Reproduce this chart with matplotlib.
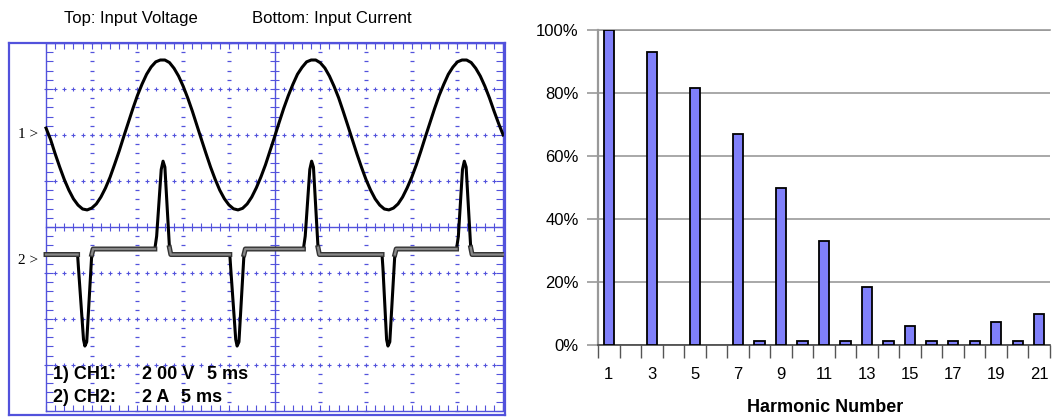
import numpy as np
import matplotlib
matplotlib.use('Agg')
from matplotlib import pyplot as plt
from matplotlib.ticker import PercentFormatter

plt.rcParams['font.family'] = ['Liberation Sans', 'DejaVu Sans']

# scope settings (from the screen)
volts_per_div = 200
amps_per_div = 2
ms_per_div = 5
ch1_ground_div = 2.0
ch2_ground_div = -0.74

# input voltage, read every 0.5 ms off the trace
voltage_t_ms = [i * 0.5 for i in range(101)]
voltage_v = [30, -20, -82, -140, -194, -240, -278, -305, -322, -326,
             -318, -300, -270, -231, -184, -128, -70, -7, 54, 115,
             172, 221, 264, 296, 318, 326, 326, 315, 290, 256,
             212, 161, 104, 42, -20, -81, -140, -193, -240, -277,
             -304, -321, -326, -319, -300, -270, -230, -183, -130, -69,
             -8, 55, 116, 171, 220, 264, 294, 318, 326, 326,
             314, 291, 256, 212, 162, 103, 42, -20, -82, -140,
             -194, -240, -278, -305, -322, -326, -318, -300, -270, -230,
             -184, -130, -70, -7, 54, 115, 172, 220, 264, 295,
             318, 326, 326, 315, 290, 256, 212, 161, 104, 50, 0]

# input current, corner points of the trace
current_t_ms = [0, 3.45, 3.55, 4.1, 4.25, 4.45, 5.0, 5.15,
                11.9, 12.1, 12.6, 12.8, 13.0, 13.5, 13.65,
                20.1, 20.2, 20.75, 20.9, 21.1, 21.65, 21.8,
                28.15, 28.35, 28.85, 29.05, 29.25, 29.75, 29.9,
                36.75, 36.85, 37.25, 37.4, 37.6, 38.15, 38.3,
                44.9, 45.1, 45.55, 45.75, 45.95, 46.45, 46.6, 50]
current_a = [0.28, 0.28, -0.32, -3.42, -3.70, -3.52, 0.28, 0.52,
             0.52, 1.08, 3.98, 4.34, 4.08, 0.58, 0.28,
             0.28, -0.32, -3.42, -3.70, -3.52, 0.28, 0.52,
             0.52, 1.08, 3.98, 4.34, 4.08, 0.58, 0.28,
             0.28, -0.32, -3.42, -3.70, -3.52, 0.28, 0.52,
             0.52, 1.08, 3.98, 4.34, 4.08, 0.58, 0.28, 0.28]

# harmonic spectrum of the current
harmonics = list(range(1, 22))
harmonic_pct = [100, 0, 93, 0, 81.5, 0, 67, 1.4, 50, 1.4, 33,
                1.4, 18.5, 1.4, 6, 1.4, 1.4, 1.4, 7.2, 1.4, 10]

W, H = 1057, 420
fig = plt.figure(figsize=(W / 100, H / 100), dpi=100)


def px_axes(x0, y0, x1, y1):
    return fig.add_axes([x0 / W, 1 - y1 / H, (x1 - x0) / W, (y1 - y0) / H])


# ---------- left: scope screen ----------
blue = '#5252dc'
scope = px_axes(9, 43, 505, 415)
scope.set_xlim(-0.81, 10.04)
scope.set_ylim(-4.09, 4.0)
scope.set_xticks([])
scope.set_yticks([])
for s in scope.spines.values():
    s.set_color(blue)
    s.set_linewidth(1.6)

mx = np.arange(0, 10.01, 0.2)
my = np.arange(-4, 4.01, 0.2)
scope.plot([0, 10, 10, 0, 0], [-4, -4, 4, 4, -4], color=blue, lw=1)
scope.vlines(mx, 4 - 0.12, 4, color=blue, lw=0.8)
scope.vlines(mx, -4, -4 + 0.12, color=blue, lw=0.8)
scope.hlines(my, 0, 0.15, color=blue, lw=0.8)
scope.hlines(my, 10 - 0.15, 10, color=blue, lw=0.8)
# centre cross
scope.plot([5, 5], [-4, 4], color=blue, lw=1)
scope.plot([0, 10], [0, 0], color=blue, lw=1)
scope.vlines(mx, -0.09, 0.09, color=blue, lw=0.8)
scope.hlines(my, 4.9, 5.1, color=blue, lw=0.8)
# dotted division lines
for gx in [1, 2, 3, 4, 6, 7, 8, 9]:
    scope.plot(np.full_like(my, gx), my, ls='none', marker='_', ms=3.5,
               mec=blue, mew=0.9)
for gy in [-3, -2, -1, 1, 2, 3]:
    scope.plot(mx, np.full_like(mx, gy), ls='none', marker='+', ms=3.5,
               mec=blue, mew=0.8)

# traces
tv = np.array(voltage_t_ms) / ms_per_div
vv = ch1_ground_div + np.array(voltage_v) / volts_per_div
scope.plot(tv, vv, color='black', lw=2.2, solid_joinstyle='round')

ca = np.array(current_a)
ti = np.array(current_t_ms) / ms_per_div
iv = ch2_ground_div + ca / amps_per_div
base = np.where(np.abs(ca - 0.4) < 0.25, iv, np.nan)
scope.plot(ti, iv, color='black', lw=2.2, solid_joinstyle='round')
scope.plot(ti, base, color='#333333', lw=3.6)
scope.plot(ti, base, color='#888888', lw=1.6)

scope.text(-0.61, ch1_ground_div, '1 >', family='Liberation Serif',
           fontsize=11, va='center')
scope.text(-0.61, ch2_ground_div, '2 >', family='Liberation Serif',
           fontsize=11, va='center')

info = dict(fontsize=13, fontweight='bold', va='center')
scope.text(0.15, -3.20, '1) CH1:', **info)
scope.text(2.10, -3.20, '2 00 V', **info)
scope.text(3.52, -3.20, '5 ms', **info)
scope.text(0.15, -3.72, '2) CH2:', **info)
scope.text(2.10, -3.72, '2 A', **info)
scope.text(2.95, -3.72, '5 ms', **info)

fig.text(131 / W, 1 - 19 / H, 'Top: Input Voltage', ha='center',
         va='center', fontsize=12)
fig.text(332 / W, 1 - 19 / H, 'Bottom: Input Current', ha='center',
         va='center', fontsize=12)

# ---------- right: harmonic spectrum ----------
ax = px_axes(598, 30, 1050, 345)
h = np.array(harmonics)
p = np.array(harmonic_pct)
shown = p > 0
ax.bar(h[shown], p[shown] / 100, width=0.48, color='#8080fa',
       edgecolor='black', lw=1.3, zorder=3)
ax.set_xlim(0.5, 21.5)
ax.set_ylim(0, 1)
ax.set_yticks(np.arange(0, 1.01, 0.2))
ax.yaxis.set_major_formatter(PercentFormatter(1.0, decimals=0))
ax.yaxis.grid(True, color='#999999', lw=1.2)
ax.set_axisbelow(True)
ax.set_xticks(harmonics[::2])
ax.set_xticks(np.arange(0.5, 22, 1), minor=True)
ax.tick_params(axis='x', which='major', length=0, pad=16, labelsize=12)
ax.tick_params(axis='x', which='minor', length=9.5, color='#555555', width=1)
ax.tick_params(axis='y', length=8, color='#999999', width=1.2, pad=6,
               labelsize=12)
ax.spines['right'].set_visible(False)
ax.spines['top'].set_color('#999999')
ax.spines['top'].set_linewidth(1.2)
ax.spines['left'].set_color('#999999')
ax.spines['left'].set_linewidth(1.6)
ax.spines['bottom'].set_color('#444444')
ax.spines['bottom'].set_linewidth(1.2)
ax.set_xlabel('Harmonic Number', fontsize=13, fontweight='bold')
ax.xaxis.set_label_coords(0.502, -0.172)

fig.savefig('out.png', dpi=100)
